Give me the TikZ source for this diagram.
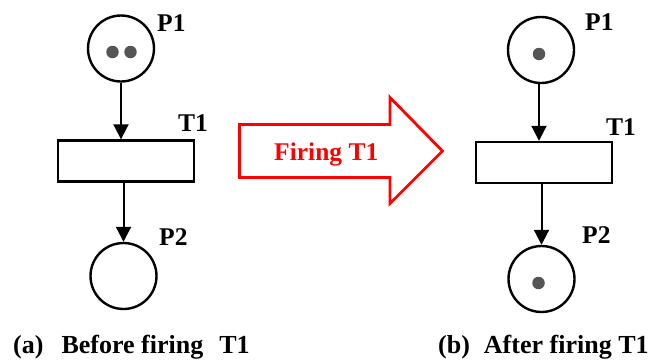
\documentclass[tikz,border=0pt]{standalone}
\usepackage{fontspec}
\setmainfont{Liberation Serif}
\usetikzlibrary{arrows.meta}
\definecolor{tokengray}{RGB}{85,85,85}
\definecolor{firered}{RGB}{255,0,0}
\tikzset{
  place/.style={circle, draw=black, line width=2.4pt, minimum size=66pt, inner sep=0pt},
  trans/.style={rectangle, draw=black, line width=2.4pt, minimum width=136pt, minimum height=41pt, inner sep=0pt},
  token/.style={circle, fill=tokengray, minimum size=12.5pt, inner sep=0pt},
  arc/.style={line width=2pt, -{Triangle[length=15pt,width=15pt]}},
  lbl/.style={anchor=base west, inner sep=0pt, font=\fontsize{25.5}{30}\selectfont\bfseries},
  captext/.style={lbl, font=\fontsize{26}{30}\selectfont\bfseries},
  firearrow/.style={draw=firered, line width=2.8pt, line join=miter, fill=white}
}
\begin{document}
\begin{tikzpicture}[x=1pt,y=-1pt]
\useasboundingbox (0,0) rectangle (654,360);
% ---- left net
\node[place] (LP1) at (121,48.5) {};
\node[token] (Lt1) at (112.5,52) {};
\node[token] (Lt2) at (130.5,52) {};
\node[trans] (LT1) at (126,161) {};
\node[place] (LP2) at (123.5,276) {};
\draw[arc] (LP1.south) -- (LP1.south |- LT1.north);
\draw[arc] (LP2.north |- LT1.south) -- (LP2.north);
\node[lbl] (LP1l) at (157,31) {P1};
\node[lbl] (LT1l) at (178,131.5) {T1};
\node[lbl] (LP2l) at (159,245) {P2};
% ---- right net
\node[place] (RP1) at (541,50) {};
\node[token] (Rt1) at (539,54) {};
\node[trans] (RT1) at (544,162.5) {};
\node[place] (RP2) at (541.5,279) {};
\node[token] (Rt2) at (538.5,283) {};
\draw[arc] (RP1.south -| Rt1) -- (Rt1 |- RT1.north);
\draw[arc] (RP2.north |- RT1.south) -- (RP2.north);
\node[lbl] (RP1l) at (585,30) {P1};
\node[lbl] (RT1l) at (606,135) {T1};
\node[lbl] (RP2l) at (582,243) {P2};
% ---- firing arrow
\draw[firearrow] (239.5,124.5) -- (390,124.5) -- (390,97.5) -- (442.5,151) -- (390,203.5) -- (390,177.5) -- (239.5,177.5) -- cycle;
\node[lbl, text=firered] (fire) at (274,160) {Firing T1};
% ---- captions
\node[captext] (capa) at (13,353) {(a)\hspace{18pt}Before firing\hspace{16pt}T1};
\node[captext] (capb) at (438,353) {(b)\hspace{14pt}After firing T1};
\end{tikzpicture}
\end{document}
